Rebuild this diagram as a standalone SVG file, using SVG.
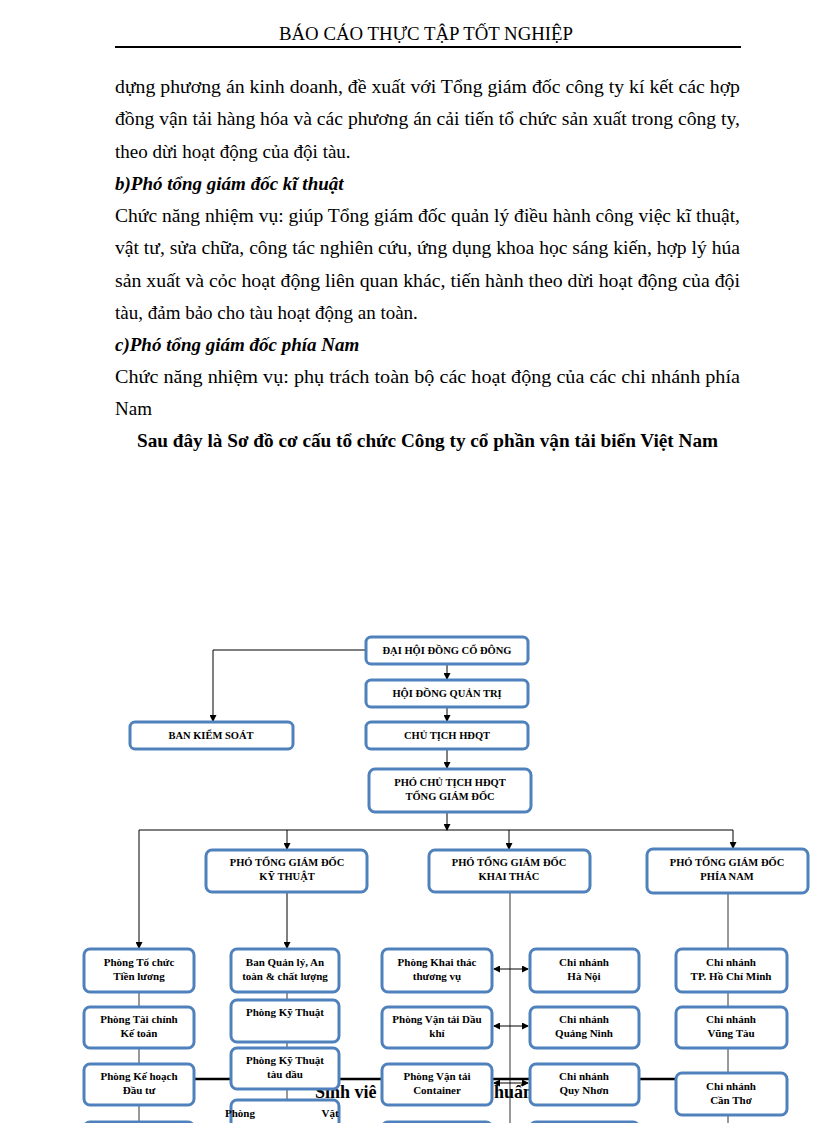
<svg xmlns="http://www.w3.org/2000/svg" width="816" height="1123" viewBox="0 0 816 1123">
<style>
.body{font-family:"Liberation Serif","Times New Roman",serif;font-size:19px;fill:#000}
.bi{font-weight:bold;font-style:italic}
.b{font-weight:bold}
.box{fill:#fff;stroke:#4F81BD;stroke-width:3}
.tu{font-family:"Liberation Serif","Times New Roman",serif;font-weight:bold;font-size:10.5px;text-anchor:middle;fill:#000}
.tl{font-family:"Liberation Serif","Times New Roman",serif;font-weight:bold;font-size:11px;text-anchor:middle;fill:#000}
.ln{fill:none;stroke:#000;stroke-width:1}
.gl{fill:none;stroke:#333;stroke-width:1}
.thick{fill:none;stroke:#000;stroke-width:2.5}
</style>
<defs>
<marker id="ah" markerWidth="7" markerHeight="7" refX="6" refY="3.5" orient="auto" markerUnits="userSpaceOnUse">
<path d="M0,0 L7,3.5 L0,7 Z" fill="#000"/>
</marker>
<marker id="as" markerWidth="7" markerHeight="7" refX="1" refY="3.5" orient="auto" markerUnits="userSpaceOnUse">
<path d="M7,0 L0,3.5 L7,7 Z" fill="#000"/>
</marker>
</defs>
<rect width="816" height="1123" fill="#fff"/>

<!-- Header -->
<g id="header">
<text class="body" x="279" y="40" font-size="15" textLength="294" lengthAdjust="spacingAndGlyphs">BÁO CÁO THỰC TẬP TỐT NGHIỆP</text>
<line x1="115" y1="47" x2="741" y2="47" stroke="#000" stroke-width="2"/>
</g>

<!-- Body text -->
<g id="body-text" class="body">
<text x="115" y="93" textLength="625" lengthAdjust="spacingAndGlyphs">dựng phương án kinh  doanh, đề xuất với Tổng giám  đốc công ty kí kết các hợp</text>
<text x="115" y="125" textLength="625" lengthAdjust="spacingAndGlyphs">đồng vận tải hàng hóa và các phương án cải tiến tổ chức sản xuất trong công ty,</text>
<text x="115" y="158">theo dừi hoạt động của đội tàu.</text>
<text x="115" y="190" class="bi">b)Phó tổng giám đốc kĩ thuật</text>
<text x="115" y="222" textLength="625" lengthAdjust="spacingAndGlyphs">Chức năng nhiệm vụ: giúp Tổng giám  đốc quản lý điều hành công việc kĩ thuật,</text>
<text x="115" y="254" textLength="625" lengthAdjust="spacingAndGlyphs">vật tư, sửa chữa, công tác nghiên cứu, ứng dụng khoa học sáng kiến, hợp lý húa</text>
<text x="115" y="287" textLength="625" lengthAdjust="spacingAndGlyphs">sản xuất và cỏc hoạt động liên  quan khác, tiến hành theo dừi hoạt động của đội</text>
<text x="115" y="319">tàu, đảm bảo cho tàu hoạt động an toàn.</text>
<text x="115" y="351" class="bi">c)Phó tổng giám đốc phía Nam</text>
<text x="115" y="383" textLength="625" lengthAdjust="spacingAndGlyphs">Chức năng nhiệm vụ: phụ trách toàn bộ các hoạt động của các chi nhánh phía</text>
<text x="115" y="415">Nam</text>
<text x="137" y="447" class="b" textLength="581" lengthAdjust="spacingAndGlyphs">Sau đây là Sơ đồ cơ cấu tổ chức Công ty cổ phần vận tải biển Việt Nam</text>
</g>

<!-- Connectors -->
<g id="connectors">
<path class="ln" d="M366,650 H213 V721" marker-end="url(#ah)"/>
<path class="ln" d="M447,664 V679" marker-end="url(#ah)"/>
<path class="ln" d="M447,707 V721" marker-end="url(#ah)"/>
<path class="ln" d="M447,749 V768" marker-end="url(#ah)"/>
<path class="ln" d="M447,812 V830" marker-end="url(#ah)"/>
<path class="ln" d="M139,830 H733"/>
<path class="ln" d="M139,830 V948" marker-end="url(#ah)"/>
<path class="ln" d="M287,830 V849" marker-end="url(#ah)"/>
<path class="ln" d="M509,830 V849" marker-end="url(#ah)"/>
<path class="ln" d="M733,830 V848" marker-end="url(#ah)"/>
<path class="ln" d="M287,892 V948" marker-end="url(#ah)"/>
<path class="gl" d="M139,992 V1007 M139,1048 V1064 M139,1105 V1123"/>
<path class="gl" d="M287,992 V1000 M287,1042 V1048 M287,1089 V1100"/>
<path class="gl" d="M510,892 V1123"/>
<path class="gl" d="M728,893 V1123"/>
<path class="thick" d="M194,1079 H676"/>
<path class="ln" d="M494,969 H528" marker-start="url(#as)" marker-end="url(#ah)"/>
<path class="ln" d="M494,1026 H528" marker-start="url(#as)" marker-end="url(#ah)"/>
<path class="ln" d="M494,1083 H528" marker-start="url(#as)" marker-end="url(#ah)"/>
</g>

<!-- Footer fragments -->
<g id="footer" font-family="Liberation Serif, Times New Roman, serif" font-weight="bold" font-size="18" fill="#000">
<text x="315" y="1098">Sinh viê</text>
<text x="494" y="1098">huấn</text>
</g>

<!-- Top nodes -->
<g id="n-daihoi"><rect class="box" x="366" y="637" width="162" height="27" rx="5"/><text class="tu" x="447" y="654">ĐẠI HỘI ĐỒNG CỔ ĐÔNG</text></g>
<g id="n-hdqt"><rect class="box" x="366" y="680" width="162" height="27" rx="5"/><text class="tu" x="447" y="697">HỘI ĐỒNG QUẢN TRỊ</text></g>
<g id="n-banks"><rect class="box" x="130" y="722" width="163" height="27" rx="5"/><text class="tu" x="211" y="739">BAN KIỂM SOÁT</text></g>
<g id="n-chutich"><rect class="box" x="366" y="722" width="162" height="27" rx="5"/><text class="tu" x="447" y="739">CHỦ TỊCH HĐQT</text></g>
<g id="n-pct"><rect class="box" x="369" y="769" width="162" height="43" rx="6"/><text class="tu" x="450" y="786">PHÓ CHỦ TỊCH HĐQT</text><text class="tu" x="450" y="800">TỔNG GIÁM ĐỐC</text></g>

<!-- Deputy directors -->
<g id="n-ptgd-kt"><rect class="box" x="206" y="850" width="161" height="42" rx="6"/><text class="tu" x="287" y="866">PHÓ TỔNG GIÁM ĐỐC</text><text class="tu" x="287" y="880">KỸ THUẬT</text></g>
<g id="n-ptgd-khai"><rect class="box" x="429" y="850" width="161" height="42" rx="6"/><text class="tu" x="509" y="866">PHÓ TỔNG GIÁM ĐỐC</text><text class="tu" x="509" y="880">KHAI THÁC</text></g>
<g id="n-ptgd-nam"><rect class="box" x="647" y="849" width="161" height="44" rx="6"/><text class="tu" x="727" y="866">PHÓ TỔNG GIÁM ĐỐC</text><text class="tu" x="727" y="880">PHÍA NAM</text></g>

<!-- Column 1 -->
<g id="n-tochuc"><rect class="box" x="84" y="949" width="110" height="43" rx="6"/><text class="tl" x="139" y="966">Phòng Tổ chức</text><text class="tl" x="139" y="980">Tiền lương</text></g>
<g id="n-taichinh"><rect class="box" x="84" y="1007" width="110" height="41" rx="6"/><text class="tl" x="139" y="1023">Phòng Tài chính</text><text class="tl" x="139" y="1037">Kế toán</text></g>
<g id="n-kehoach"><rect class="box" x="84" y="1064" width="110" height="41" rx="6"/><text class="tl" x="139" y="1080">Phòng Kế hoạch</text><text class="tl" x="139" y="1094">Đầu tư</text></g>
<g id="n-col1-next"><rect class="box" x="84" y="1122" width="110" height="40" rx="6"/></g>

<!-- Column 2 -->
<g id="n-banql"><rect class="box" x="231" y="949" width="108" height="43" rx="6"/><text class="tl" x="285" y="966">Ban Quản lý, An</text><text class="tl" x="285" y="980">toàn &amp; chất lượng</text></g>
<g id="n-kythuat"><rect class="box" x="231" y="1000" width="108" height="42" rx="6"/><text class="tl" x="285" y="1016">Phòng Kỹ Thuật</text></g>
<g id="n-kythuat-tau"><rect class="box" x="231" y="1048" width="108" height="41" rx="6"/><text class="tl" x="285" y="1064">Phòng Kỹ Thuật</text><text class="tl" x="285" y="1078">tàu dầu</text></g>
<g id="n-vattu"><rect class="box" x="231" y="1100" width="108" height="40" rx="6"/><text class="tl" x="240" y="1117" text-anchor="start">Phòng</text><text class="tl" x="330" y="1117" text-anchor="end">Vật</text></g>

<!-- Column 3 -->
<g id="n-khaithac"><rect class="box" x="382" y="949" width="110" height="43" rx="6"/><text class="tl" x="437" y="966">Phòng Khai thác</text><text class="tl" x="437" y="980">thương vụ</text></g>
<g id="n-daukhi"><rect class="box" x="382" y="1007" width="110" height="41" rx="6"/><text class="tl" x="437" y="1023">Phòng Vận tải Dầu</text><text class="tl" x="437" y="1037">khí</text></g>
<g id="n-container"><rect class="box" x="382" y="1064" width="110" height="41" rx="6"/><text class="tl" x="437" y="1080">Phòng Vận tải</text><text class="tl" x="437" y="1094">Container</text></g>
<g id="n-col3-next"><rect class="box" x="382" y="1122" width="110" height="40" rx="6"/></g>

<!-- Column 4 -->
<g id="n-hanoi"><rect class="box" x="530" y="949" width="109" height="43" rx="6"/><text class="tl" x="584" y="966">Chi nhánh</text><text class="tl" x="584" y="980">Hà Nội</text></g>
<g id="n-quangninh"><rect class="box" x="530" y="1007" width="109" height="41" rx="6"/><text class="tl" x="584" y="1023">Chi nhánh</text><text class="tl" x="584" y="1037">Quảng Ninh</text></g>
<g id="n-quynhon"><rect class="box" x="530" y="1064" width="109" height="41" rx="6"/><text class="tl" x="584" y="1080">Chi nhánh</text><text class="tl" x="584" y="1094">Quy Nhơn</text></g>
<g id="n-col4-next"><rect class="box" x="530" y="1122" width="109" height="40" rx="6"/></g>

<!-- Column 5 -->
<g id="n-hcm"><rect class="box" x="676" y="949" width="111" height="43" rx="6"/><text class="tl" x="731" y="966">Chi nhánh</text><text class="tl" x="731" y="980">TP. Hồ Chí Minh</text></g>
<g id="n-vungtau"><rect class="box" x="676" y="1007" width="111" height="41" rx="6"/><text class="tl" x="731" y="1023">Chi nhánh</text><text class="tl" x="731" y="1037">Vũng Tàu</text></g>
<g id="n-cantho"><rect class="box" x="676" y="1073" width="111" height="42" rx="6"/><text class="tl" x="731" y="1090">Chi nhánh</text><text class="tl" x="731" y="1104">Cần Thơ</text></g>
</svg>
